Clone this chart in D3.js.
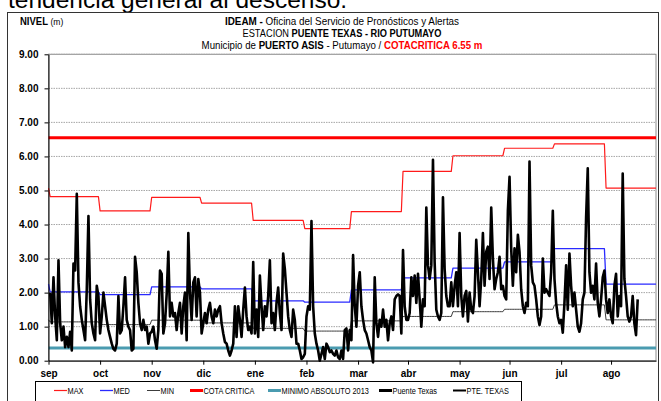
<!DOCTYPE html>
<html>
<head>
<meta charset="utf-8">
<script src="https://cdn.jsdelivr.net/npm/d3@7"></script>
<style>
  html, body { margin: 0; padding: 0; background: #fff; }
  svg { display: block; }
  text { font-family: "Liberation Sans", Arial, sans-serif; }
</style>
</head>
<body>
<svg id="chart" width="661" height="401"></svg>
<script>
// ---- data -----------------------------------------------------------------
// Month labels and the day offsets (from 1 Sep 2013) where each label sits
const monthLabels = ["sep", "oct", "nov", "dic", "ene", "feb", "mar", "abr", "may", "jun", "jul", "ago"];
const tickDays    = [-1, 30, 61, 92, 123, 154, 185, 215, 246, 276, 307, 337];

// Monthly historical levels (m), September → August
const maxMonthly = [4.82, 4.40, 4.80, 4.63, 4.12, 3.88, 4.38, 5.56, 6.02, 6.24, 6.37, 5.07];
const medMonthly = [2.02, 1.94, 2.17, 2.11, 1.76, 1.72, 2.08, 2.43, 2.72, 2.90, 3.29, 2.25];
const minMonthly = [1.14, 1.06, 1.19, 1.11, 0.95, 0.87, 1.17, 1.30, 1.44, 1.51, 1.64, 1.20];

const cotaCritica = 6.55;     // critical level
const minimoAbsoluto = 0.37;  // absolute minimum 2013

// Daily level at Puente Texas, starting 1 Sep 2013
const puenteTexas = [
  // sep
  2.0,1.1,2.45,1.3,0.6,2.95,1.1,0.6,1.0,0.4,
  0.7,0.4,0.85,0.3,2.85,2.65,4.9,2.3,1.6,1.2,
  0.9,0.6,2.1,4.25,1.8,1.1,0.8,0.6,2.2,1.9,
  // oct
  0.8,1.3,2.0,1.6,1.2,0.9,0.7,0.5,0.35,0.3,
  0.5,1.9,0.8,0.9,1.6,2.45,1.2,1.0,0.9,0.3,
  0.35,3.05,2.6,1.7,1.1,0.9,1.2,0.9,1.0,0.5,0.8,
  // nov
  0.85,1.0,0.6,0.35,0.9,2.65,2.55,0.8,1.1,1.95,
  3.2,1.3,1.7,1.3,1.4,0.9,1.4,1.7,0.8,1.6,
  2.0,0.6,3.75,2.0,1.2,2.3,2.45,1.3,2.4,2.0,
  // dic
  0.8,1.1,1.4,1.1,1.5,1.7,1.3,1.1,1.5,1.3,
  1.5,1.6,1.1,0.8,0.55,0.5,0.3,0.15,0.3,0.5,
  1.6,0.7,1.6,1.2,0.7,1.5,2.15,1.3,0.9,1.0,0.8,
  // ene
  2.9,0.8,1.5,0.7,2.5,1.6,0.9,1.6,1.3,1.9,
  2.95,1.1,1.4,0.9,1.7,2.15,1.4,0.9,3.15,2.7,
  2.0,1.3,0.9,0.7,1.5,1.2,0.5,0.5,0.3,0.05,0.1,
  // feb
  0.2,1.3,1.6,1.5,4.1,1.6,0.8,0.5,0.3,0.0,
  0.2,0.4,0.05,0.5,0.4,0.25,0.3,0.2,0.15,0.3,
  0.1,0.05,0.3,0.05,0.9,0.95,0.3,0.9,
  // mar
  0.6,3.1,1.6,1.0,2.2,2.6,1.6,1.2,0.9,0.8,
  0.6,0.4,0.3,-0.05,2.45,1.1,0.7,1.2,1.0,1.5,
  1.0,1.2,0.6,1.1,1.3,0.9,1.8,1.9,1.95,1.9,0.8,
  // abr
  3.25,1.6,1.2,1.2,1.4,2.45,1.9,2.5,1.7,2.55,
  1.8,1.0,1.8,1.6,4.5,2.8,2.4,2.8,5.9,2.9,
  1.5,1.3,1.2,1.4,4.8,2.7,1.9,1.6,1.6,2.3,
  // may
  1.6,2.2,2.6,1.6,3.75,1.9,1.3,1.9,2.05,1.15,
  2.0,1.5,1.4,1.9,3.55,2.6,1.6,2.4,3.75,2.2,
  3.2,3.35,2.4,4.5,3.0,2.1,2.4,2.6,3.05,2.1,2.2,
  // jun
  1.9,1.8,4.4,5.4,3.3,2.2,3.3,2.6,3.7,3.2,
  2.1,1.6,1.4,1.7,1.6,5.85,2.8,2.3,2.2,1.8,
  1.3,1.05,1.3,3.0,2.0,2.1,2.0,1.9,2.6,4.4,
  // jul
  2.4,1.7,1.3,1.1,1.2,0.82,1.7,2.8,1.5,3.15,
  2.2,1.6,2.0,1.5,1.0,0.85,1.1,1.8,2.0,4.2,
  5.65,2.6,2.0,2.2,1.8,2.85,1.7,1.3,1.8,2.45,2.65,
  // ago
  1.8,1.4,1.8,1.3,1.1,2.2,2.55,1.3,1.9,1.6,
  5.5,2.4,1.9,1.3,1.15,1.3,1.9,1.1,0.75,1.8
];

// ---- layout ---------------------------------------------------------------
const svg = d3.select("#chart");
const plot = { left: 48.5, right: 656, top: 54.3, bottom: 360.7 };

const start = new Date(2013, 8, 1);
const dayDate = i => d3.timeDay.offset(start, i);

const x = d3.scaleTime()
  .domain([dayDate(-1), dayDate(364)])
  .range([plot.left, plot.right]);
const y = d3.scaleLinear()
  .domain([0, 9])
  .range([plot.bottom, plot.top]);

// Condensed text: regular face squeezed horizontally around its anchor point
function condensed(parent, px, py, k) {
  return parent.append("g")
    .attr("transform", `translate(${px},${py}) scale(${k},1)`)
    .append("text").attr("x", 0).attr("y", 0);
}

// Heading text above the chart frame (part of the surrounding document)
svg.append("text")
  .attr("x", 8).attr("y", 8)
  .attr("font-size", 24.5)
  .attr("fill", "#000")
  .text("tendencia general al descenso.");

// Chart frame
svg.append("rect")
  .attr("x", 7.5).attr("y", 12.5)
  .attr("width", 651).attr("height", 400)
  .attr("fill", "#fff")
  .attr("stroke", "#333").attr("stroke-width", 1);

// Titles
const title = svg.append("g").attr("font-size", 11).attr("text-anchor", "middle").attr("fill", "#000");
const t1 = condensed(title, 342, 25, 0.9);
t1.append("tspan").attr("font-weight", "bold").text("IDEAM - ");
t1.append("tspan").text("Oficina del Servicio de Pronósticos y Alertas");
const t2 = condensed(title, 342, 37, 0.84);
t2.append("tspan").text("ESTACION ");
t2.append("tspan").attr("font-weight", "bold").text("PUENTE TEXAS - RIO PUTUMAYO");
const t3 = condensed(title, 342, 49, 0.88);
t3.append("tspan").text("Municipio de ");
t3.append("tspan").attr("font-weight", "bold").text("PUERTO ASIS");
t3.append("tspan").text(" - Putumayo / ");
t3.append("tspan").attr("font-weight", "bold").attr("fill", "#ff0000").text("COTACRITICA 6.55 m");

const yl = condensed(svg, 20, 25, 0.95).attr("font-size", 10);
yl.append("tspan").attr("font-weight", "bold").text("NIVEL ");
yl.append("tspan").attr("font-size", 9).text("(m)");

// Plot border (right/top) and dotted horizontal gridlines
svg.append("rect")
  .attr("x", plot.left).attr("y", plot.top)
  .attr("width", plot.right - plot.left).attr("height", plot.bottom - plot.top)
  .attr("fill", "none").attr("stroke", "#8c8c8c").attr("stroke-width", 1);

svg.append("g")
  .selectAll("line")
  .data(d3.range(1, 10))
  .join("line")
  .attr("x1", plot.left).attr("x2", plot.right)
  .attr("y1", d => y(d)).attr("y2", d => y(d))
  .attr("stroke", "#a6a6a6").attr("stroke-width", 1)
  .attr("stroke-dasharray", "1.5,1");

// ---- series ---------------------------------------------------------------
const monthOf = d => (d.getMonth() + 4) % 12;   // Sep → 0 … Aug → 11
const allDays = d3.range(-1, 365).map(dayDate);

const line = d3.line().x(d => x(d[0])).y(d => y(d[1]));

function stepSeries(arr) {
  return allDays.map(d => [d, arr[monthOf(d)]]);
}

const g = svg.append("g").attr("fill", "none").attr("stroke-linejoin", "round");

g.append("path").attr("d", line(stepSeries(maxMonthly)))
  .attr("stroke", "#ff1a1a").attr("stroke-width", 1.2);
g.append("path").attr("d", line(stepSeries(medMonthly)))
  .attr("stroke", "#2a2aff").attr("stroke-width", 1.3);
g.append("path").attr("d", line(stepSeries(minMonthly)))
  .attr("stroke", "#3c3c3c").attr("stroke-width", 1);

g.append("path").attr("d", line([[allDays[0], cotaCritica], [allDays[allDays.length - 1], cotaCritica]]))
  .attr("stroke", "#ff0000").attr("stroke-width", 3);
g.append("path").attr("d", line([[allDays[0], minimoAbsoluto], [allDays[allDays.length - 1], minimoAbsoluto]]))
  .attr("stroke", "#4a9bb0").attr("stroke-width", 3);

g.append("path").attr("d", line(puenteTexas.map((v, i) => [dayDate(i), v])))
  .attr("stroke", "#000").attr("stroke-width", 2.6);

// ---- axes -----------------------------------------------------------------
const yAxis = d3.axisLeft(y)
  .tickValues(d3.range(0, 10))
  .tickFormat(d3.format(".2f"))
  .tickSize(4).tickSizeOuter(0).tickPadding(6);
const ya = svg.append("g").attr("transform", `translate(${plot.left},0)`).call(yAxis);
ya.selectAll("text").attr("font-size", 10).attr("font-weight", "bold").attr("fill", "#000")
  .attr("font-family", "\"Liberation Sans\", Arial, sans-serif");
ya.selectAll("line, path").attr("stroke", "#000");

const xAxis = d3.axisBottom(x)
  .tickValues(tickDays.map(dayDate))
  .tickFormat((d, i) => monthLabels[i])
  .tickSize(4).tickSizeOuter(0).tickPadding(5);
const xa = svg.append("g").attr("transform", `translate(0,${plot.bottom})`).call(xAxis);
xa.selectAll("text").attr("font-size", 10).attr("font-weight", "bold").attr("fill", "#000")
  .attr("font-family", "\"Liberation Sans\", Arial, sans-serif");
xa.selectAll("line, path").attr("stroke", "#000");

// ---- legend ---------------------------------------------------------------
const legendItems = [
  { label: "MAX", color: "#ff1a1a", width: 1.2, x: 54 },
  { label: "MED", color: "#2a2aff", width: 1.3, x: 100 },
  { label: "MIN", color: "#3c3c3c", width: 1, x: 147 },
  { label: "COTA CRITICA", color: "#ff0000", width: 3, x: 190 },
  { label: "MINIMO ABSOLUTO 2013", color: "#4a9bb0", width: 3, x: 268 },
  { label: "Puente Texas", color: "#000", width: 3, x: 379 },
  { label: "PTE. TEXAS", color: "#000", width: 2, x: 453 }
];
const lg = svg.append("g");
lg.append("rect")
  .attr("x", 35.5).attr("y", 381.5).attr("width", 486).attr("height", 30)
  .attr("fill", "#fff").attr("stroke", "#000").attr("stroke-width", 1);
legendItems.forEach(d => {
  lg.append("line")
    .attr("x1", d.x).attr("x2", d.x + 13)
    .attr("y1", 390.5).attr("y2", 390.5)
    .attr("stroke", d.color).attr("stroke-width", d.width);
  condensed(lg, d.x + 13.5, 394, 0.8)
    .attr("font-size", 9.2).attr("fill", "#000")
    .text(d.label);
});
</script>
</body>
</html>
